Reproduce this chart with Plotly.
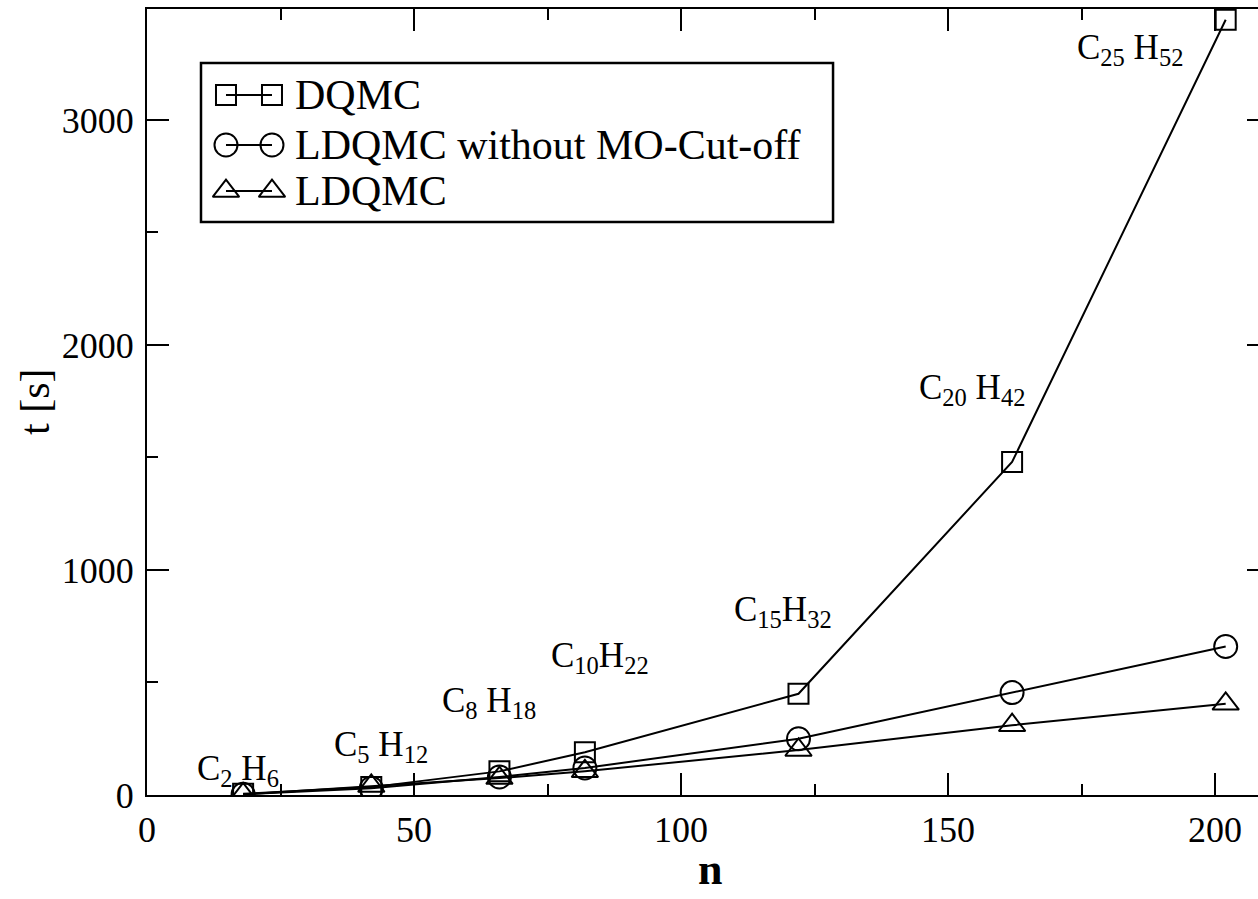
import plotly.graph_objects as go

# ---- data ----
n = [18, 42, 66, 82, 122, 162, 202]
t_dqmc = [5, 35, 105, 190, 450, 1480, 3445]
t_ldqmc_nocut = [3, 30, 80, 120, 250, 455, 660]
t_ldqmc = [3, 40, 75, 105, 200, 310, 405]
series_names = ["DQMC", "LDQMC without MO-Cut-off", "LDQMC"]
molecules = ["C<sub>2</sub> H<sub>6</sub>", "C<sub>5</sub> H<sub>12</sub>",
             "C<sub>8</sub> H<sub>18</sub>", "C<sub>10</sub>H<sub>22</sub>",
             "C<sub>15</sub>H<sub>32</sub>", "C<sub>20</sub> H<sub>42</sub>",
             "C<sub>25</sub> H<sub>52</sub>"]
label_x = [17.0, 43.8, 64.1, 84.8, 119.1, 154.5, 184.1]
label_y = [110, 215, 410, 610, 815, 1800, 3311]

FONT = "Liberation Serif"
symbols = ["square-open", "circle-open", "triangle-up-open"]
msizes = [20, 23, 23]

fig = go.Figure()
for name, ys, sym, ms in zip(series_names, [t_dqmc, t_ldqmc_nocut, t_ldqmc], symbols, msizes):
    fig.add_trace(go.Scatter(x=n, y=ys, mode="lines+markers", name=name,
                             line=dict(color="black", width=2),
                             marker=dict(symbol=sym, size=ms, color="black",
                                         line=dict(color="black", width=2)),
                             showlegend=False, xaxis="x", yaxis="y"))

# invisible trace for the right-hand tick axis
fig.add_trace(go.Scatter(x=[n[0]], y=[t_dqmc[0]], mode="markers", marker=dict(opacity=0),
                         showlegend=False, xaxis="x", yaxis="y3", hoverinfo="skip"))

# manual legend (xmgrace style: marker at both ends of a short line)
leg_y = [0.8906, 0.827, 0.7684]
leg_sym_x = [0.0711, 0.1125]
for name, sym, ms, ly in zip(series_names, symbols, msizes, leg_y):
    fig.add_trace(go.Scatter(x=leg_sym_x, y=[ly, ly], mode="lines+markers",
                             line=dict(color="black", width=2),
                             marker=dict(symbol=sym, size=ms, color="black",
                                         line=dict(color="black", width=2)),
                             showlegend=False, xaxis="x2", yaxis="y2", hoverinfo="skip"))
    fig.add_annotation(x=0.1314, y=ly, xref="paper", yref="paper", text=name,
                       showarrow=False, xanchor="left", yanchor="middle",
                       font=dict(family=FONT, size=42, color="black"))

fig.add_shape(type="rect", xref="paper", yref="paper", x0=0.0486, x1=0.6175,
              y0=0.729, y1=0.9313, line=dict(color="black", width=2.5),
              fillcolor="rgba(0,0,0,0)", layer="below")

for txt, lx, ly in zip(molecules, label_x, label_y):
    fig.add_annotation(x=lx, y=ly, xref="x", yref="y", text=txt, showarrow=False,
                       xanchor="center", yanchor="middle",
                       font=dict(family=FONT, size=35, color="black"))

# axis titles
fig.add_annotation(x=0.5068, y=-0.1285, xref="paper", yref="paper", text="<b>n</b>",
                   showarrow=False, xanchor="center", yanchor="bottom",
                   font=dict(family=FONT, size=44, color="black"))
fig.add_annotation(x=-0.1008, y=0.5, xref="paper", yref="paper", text="t [s]",
                   textangle=-90, showarrow=False, xanchor="center", yanchor="middle",
                   font=dict(family=FONT, size=42, color="black"))

tickfont = dict(family=FONT, size=36, color="black")
fig.update_layout(
    width=1258, height=899,
    margin=dict(l=147, r=0, t=9, b=104, pad=0),
    paper_bgcolor="white", plot_bgcolor="white",
    showlegend=False,
    xaxis=dict(range=[0, 208.05], dtick=50, tick0=0, ticks="inside", ticklen=22,
               tickwidth=2, tickcolor="black", showline=True, linecolor="black",
               linewidth=2, mirror="ticks", showgrid=False, zeroline=False,
               tickfont=tickfont, ticklabelstandoff=2,
               minor=dict(dtick=25, ticks="inside", ticklen=11, tickwidth=2,
                          tickcolor="black", showgrid=False)),
    yaxis=dict(range=[0, 3493], dtick=1000, tick0=0, ticks="inside", ticklen=22,
               tickwidth=2, tickcolor="black", showline=True, linecolor="black",
               linewidth=2, mirror=False, showgrid=False, zeroline=False,
               tickfont=tickfont, ticklabelstandoff=4,
               minor=dict(dtick=500, ticks="inside", ticklen=11, tickwidth=2,
                          tickcolor="black", showgrid=False)),
    yaxis3=dict(range=[0, 3493], overlaying="y", side="right", anchor="x",
                dtick=1000, tick0=0, ticks="inside", ticklen=11, tickwidth=2,
                tickcolor="black", showline=False, showgrid=False, zeroline=False,
                showticklabels=False),
    xaxis2=dict(range=[0, 1], overlaying="x", visible=False, anchor="y2"),
    yaxis2=dict(range=[0, 1], overlaying="y", visible=False, anchor="x2"),
)

fig.write_html("out.html")
